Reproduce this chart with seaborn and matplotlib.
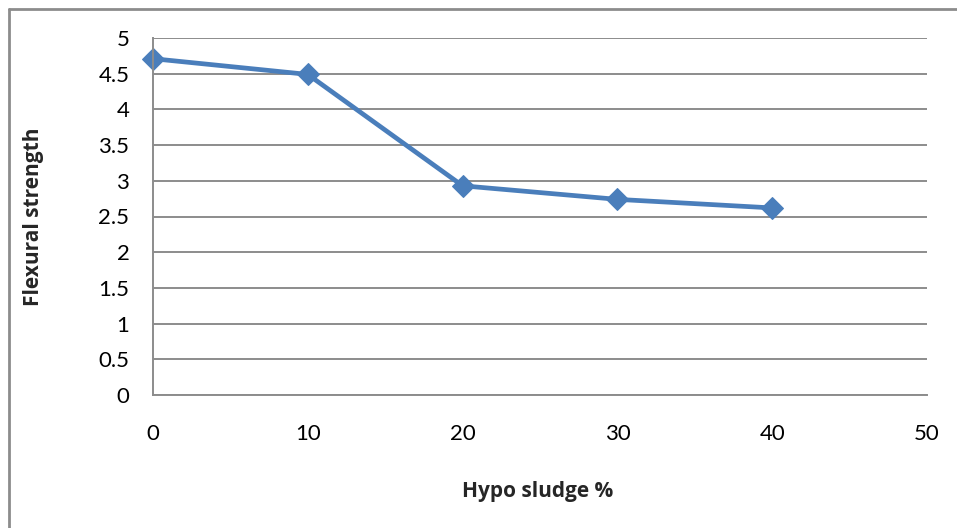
import matplotlib
matplotlib.use("Agg")
import matplotlib.pyplot as plt
from matplotlib.lines import Line2D
import seaborn as sns
import pandas as pd

# Flexural strength against hypo sludge replacement
sludge_pct = [0, 10, 20, 30, 40]
flexural_strength = [4.71, 4.49, 2.93, 2.74, 2.62]
x_ticks = [0, 10, 20, 30, 40, 50]
y_ticks = [0, 0.5, 1, 1.5, 2, 2.5, 3, 3.5, 4, 4.5, 5]
y_tick_labels = ["0", "0.5", "1", "1.5", "2", "2.5", "3", "3.5", "4", "4.5", "5"]

df = pd.DataFrame({"Hypo sludge %": sludge_pct, "Flexural strength": flexural_strength})

sns.set_theme(style="white")
plt.rcParams["font.family"] = ["Lato", "DejaVu Sans"]

W, H = 957, 528
fig = plt.figure(figsize=(W / 100, H / 100), dpi=100)
ax = fig.add_axes([153 / W, 1 - 395 / H, (927 - 153) / W, (395 - 38) / H])

grid_color = "#8c8c8c"
line_color = "#4a7ebb"

sns.lineplot(data=df, x="Hypo sludge %", y="Flexural strength", ax=ax,
             color=line_color, linewidth=3.4, marker="D", markersize=11,
             markeredgecolor=line_color, markerfacecolor=line_color, clip_on=False)

ax.set_xlim(0, 50)
ax.set_ylim(0, 5)
ax.set_xticks(x_ticks)
ax.set_xticklabels([str(t) for t in x_ticks])
ax.set_yticks(y_ticks)
ax.set_yticklabels(y_tick_labels)
ax.yaxis.grid(True, color=grid_color, linewidth=1.4)
ax.xaxis.grid(False)
ax.tick_params(axis="both", length=0, labelsize=16, colors="black")
ax.tick_params(axis="x", pad=21)
ax.tick_params(axis="y", pad=17)

for side in ["top", "right"]:
    ax.spines[side].set_visible(False)
for side in ["left", "bottom"]:
    ax.spines[side].set_color(grid_color)
    ax.spines[side].set_linewidth(1.4)

ax.set_xlabel("")
ax.set_ylabel("")
label_font = ["Open Sans", "DejaVu Sans"]
fig.text(538 / W, 1 - 492 / H, "Hypo sludge %", ha="center", va="center",
         fontsize=15, fontweight="bold", family=label_font)
fig.text(34 / W, 1 - 217 / H, "Flexural strength", ha="center", va="center",
         rotation=90, fontsize=15, fontweight="bold", family=label_font)

# Chart area border (left and top edges)
fig.add_artist(Line2D([9 / W, 9 / W], [0, 1 - 9 / H], transform=fig.transFigure,
                      color=grid_color, linewidth=2))
fig.add_artist(Line2D([9 / W, 1], [1 - 9 / H, 1 - 9 / H], transform=fig.transFigure,
                      color=grid_color, linewidth=2))

fig.savefig("out.png", dpi=100)
